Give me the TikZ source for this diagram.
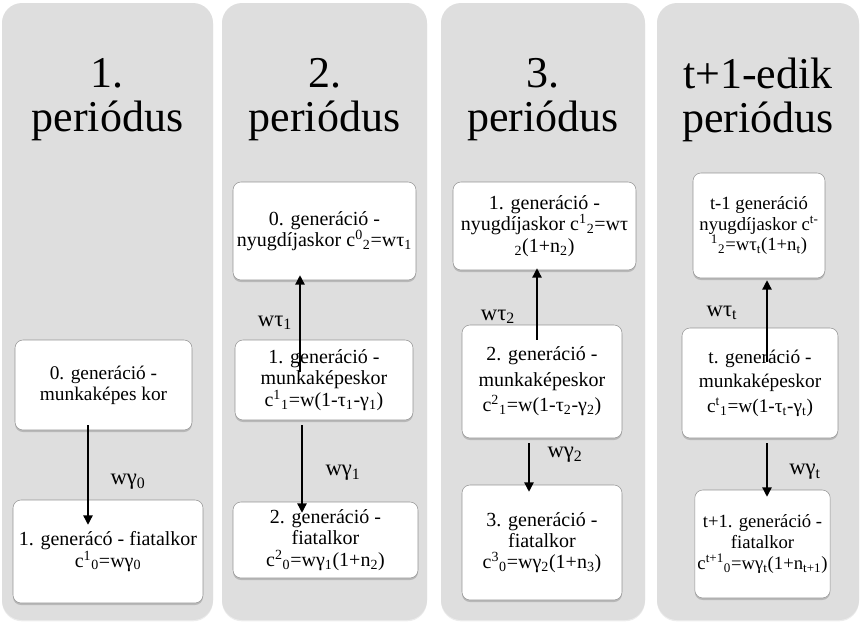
\documentclass[tikz,border=0pt]{standalone}
\usepackage{fontspec}
\setmainfont{Liberation Serif}
\usetikzlibrary{arrows.meta,calc,positioning,shadows}
\definecolor{panelgray}{RGB}{222,222,222}
\definecolor{boxline}{RGB}{150,150,150}
\newcommand{\hi}[1]{\textsuperscript{#1}}
\newcommand{\lo}[1]{\textsubscript{#1}}

\begin{document}
\begin{tikzpicture}[x=0.75pt,y=-0.75pt,>={Triangle[length=7pt,width=7pt]},
	panel/.style={fill=panelgray,rounded corners=15pt,
		drop shadow={shadow xshift=0pt,shadow yshift=-1pt,opacity=.15}},
	title/.style={align=center,font=\fontsize{33}{33}\selectfont},
	gen/.style={draw=boxline,fill=white,rounded corners=6pt,align=center,inner sep=2pt,
		font=\fontsize{15}{16}\selectfont,
		drop shadow={shadow xshift=0pt,shadow yshift=-1.5pt,opacity=.4}},
	small/.style={font=\fontsize{14}{15.5}\selectfont},
	wh/.style 2 args={minimum width=#1*0.75pt,minimum height=#2*0.75pt},
	flow/.style={->,line width=1pt},
	lbl/.style={font=\fontsize{17}{17}\selectfont}]
	\useasboundingbox (0,0) rectangle (861,622);
	% periods
	\fill[panel] (2,3) rectangle (213,620);
	\fill[panel] (222,3) rectangle (427,620);
	\fill[panel] (441,3) rectangle (645,620);
	\fill[panel] (657,3) rectangle (859,620);
	\node[title] (per_1) at (107.5,100) {1.\\periódus};
	\node[title] (per_2) at (324.5,100) {2.\\periódus};
	\node[title] (per_3) at (543,100) {3.\\periódus};
	\node[title] (per_t) at (758,100) {t+1-edik\\periódus};
	% 1. period
	\node[gen,wh={177}{90},font=\fontsize{14.5}{16}\selectfont] (work_0) at (103.5,385) {0. generáció -\\munkaképes kor};
	\node[gen,wh={190}{103}] (young_1) at (108,551.5) {1. generácó - fiatalkor\\c\hi{1}\lo{0}=wγ\lo{0}};
	% 2. period
	\node[gen,wh={183}{98}] (ret_1) at (324.5,231) {0. generáció -\\nyugdíjaskor c\hi{0}\lo{2}=wτ\lo{1}};
	\node[gen,wh={178}{80}] (work_1) at (324,380) {1. generáció -\\munkaképeskor\\c\hi{1}\lo{1}=w(1-τ\lo{1}-γ\lo{1})};
	\node[gen,wh={185}{76}] (young_2) at (325.5,540) {2. generáció -\\fiatalkor\\c\hi{2}\lo{0}=wγ\lo{1}(1+n\lo{2})};
	% 3. period
	\node[gen,wh={183}{88}] (ret_2) at (544.5,226) {1. generáció -\\nyugdíjaskor c\hi{1}\lo{2}=wτ\\\lo{2}(1+n\lo{2})};
	\node[gen,wh={160}{113},font=\fontsize{15}{19}\selectfont] (work_2) at (542,381.5) {2. generáció -\\munkaképeskor\\c\hi{2}\lo{1}=w(1-τ\lo{2}-γ\lo{2})};
	\node[gen,wh={160}{115}] (young_3) at (542,542.5) {3. generáció -\\fiatalkor\\c\hi{3}\lo{0}=wγ\lo{2}(1+n\lo{3})};
	% t+1. period
	\node[gen,small,wh={132}{105}] (ret_t) at (759,225.5) {t-1 generáció\\nyugdíjaskor c\hi{t-}\\\hi{1}\lo{2}=wτ\lo{t}(1+n\lo{t})};
	\node[gen,wh={156}{110},font=\fontsize{14.5}{18.5}\selectfont] (work_t) at (760,383) {t. generáció -\\munkaképeskor\\c\hi{t}\lo{1}=w(1-τ\lo{t}-γ\lo{t})};
	\node[gen,small,wh={135}{108}] (young_t) at (762.5,544) {t+1. generáció -\\fiatalkor\\c\hi{t+1}\lo{0}=wγ\lo{t}(1+n\lo{t+1})};
	% transfers
	\draw[flow] ($(work_0.south)+(-15.5,-5)$) -- ($(young_1.north)+(-20,25)$);
	\draw[flow] ($(work_1.north)+(-24,32)$) -- ($(ret_1.south)+(-24.5,-5)$);
	\draw[flow] ($(work_1.south)+(-22,5)$) -- ($(young_2.north)+(-23.5,11)$);
	\draw[flow] ($(work_2.north)+(-5,15)$) -- ($(ret_2.south)+(-7.5,-2)$);
	\draw[flow] ($(work_2.south)+(-13,5)$) -- ($(young_3.north)+(-13,7)$);
	\draw[flow] ($(work_t.north)+(7,34)$) -- ($(ret_t.south)+(8,2)$);
	\draw[flow] ($(work_t.south)+(7,5)$) -- ($(young_t.north)+(4.5,7)$);
	\node[lbl] (tr_0) at (128,482) {wγ\lo{0}};
	\node[lbl] (tau_1) at (275,323) {wτ\lo{1}};
	\node[lbl] (tr_1) at (343,473) {wγ\lo{1}};
	\node[lbl] (tau_2) at (498,317) {wτ\lo{2}};
	\node[lbl] (tr_2) at (565,455) {wγ\lo{2}};
	\node[lbl] (tau_t) at (722,313) {wτ\lo{t}};
	\node[lbl] (tr_t) at (805,472) {wγ\lo{t}};
\end{tikzpicture}
\end{document}
